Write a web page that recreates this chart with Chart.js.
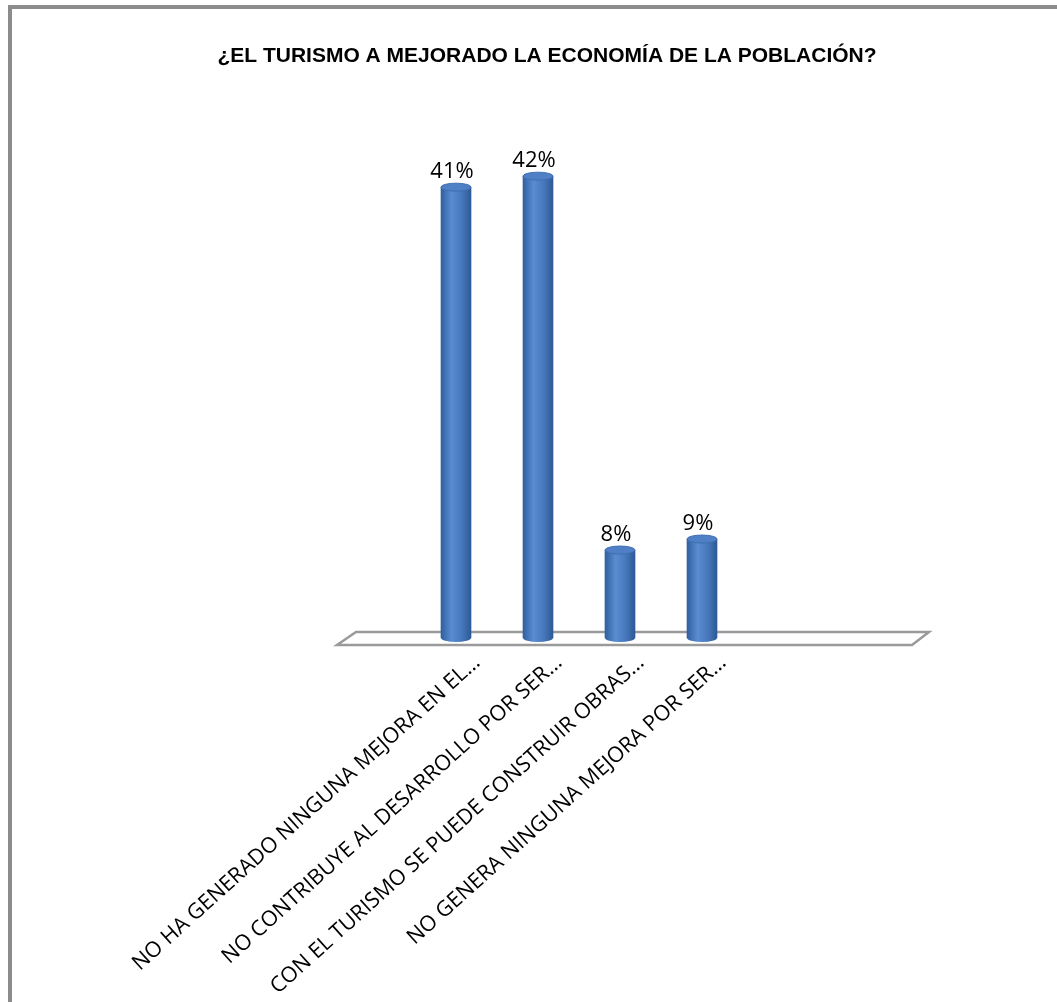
<!DOCTYPE html>
<html lang="es">

<head>
    <meta charset="UTF-8">
    <title>Turismo</title>
    <script src="https://cdn.jsdelivr.net/npm/chart.js@4.4.1/dist/chart.umd.min.js"></script>
    <style>
        body {
            margin: 0;
            background: #ffffff;
        }

        .container {
            position: relative;
            width: 1057px;
            height: 1002px;
        }
    </style>
</head>

<body>
    <div class="container">
        <canvas id="myChart"></canvas>
    </div>
    <script>
        const titulo = '¿EL TURISMO A MEJORADO LA ECONOMÍA DE LA POBLACIÓN?'
        const categorias = [
            'NO HA GENERADO NINGUNA MEJORA EN EL…',
            'NO CONTRIBUYE AL DESARROLLO POR SER…',
            'CON EL TURISMO SE PUEDE CONSTRUIR OBRAS…',
            'NO GENERA NINGUNA MEJORA POR SER…'
        ]
        const porcentajes = [41, 42, 8, 9]

        // cuerpo del cilindro: degradado horizontal
        function cuerpo(ctx) {
            const chart = ctx.chart
            const x = chart.scales.x ? chart.scales.x.getPixelForValue(ctx.dataIndex) : NaN
            if (!isFinite(x)) return '#4777bb'
            const g = chart.ctx.createLinearGradient(x - 15, 0, x + 15, 0)
            g.addColorStop(0, '#30609f')
            g.addColorStop(0.35, '#5a8cd2')
            g.addColorStop(0.7, '#4777bb')
            g.addColorStop(1, '#2d5a95')
            return g
        }

        // marco, piso 3D y tapas de los cilindros
        const efecto3d = {
            id: 'efecto3d',
            beforeDraw(chart) {
                const c = chart.ctx
                c.save()
                c.strokeStyle = '#8c8c8c'
                c.lineWidth = 4
                c.beginPath()
                c.moveTo(10, chart.height)
                c.lineTo(10, 7)
                c.lineTo(chart.width, 7)
                c.stroke()
                c.restore()
            },
            beforeDatasetsDraw(chart) {
                const c = chart.ctx
                const a = chart.chartArea
                const y0 = chart.scales.y.getPixelForValue(0)
                c.save()
                c.fillStyle = '#ffffff'
                c.strokeStyle = '#9a9a9a'
                c.lineWidth = 2.5
                c.beginPath()
                c.moveTo(a.left - 59, y0 - 6)
                c.lineTo(a.right + 186, y0 - 6)
                c.lineTo(a.right + 169, y0 + 7)
                c.lineTo(a.left - 78, y0 + 7)
                c.closePath()
                c.fill()
                c.stroke()
                c.restore()
            },
            afterDatasetsDraw(chart) {
                const c = chart.ctx
                const meta = chart.getDatasetMeta(0)
                c.save()
                meta.data.forEach(function (bar, i) {
                    const rx = bar.width / 2
                    const ry = 4
                    // base redondeada
                    c.beginPath()
                    c.ellipse(bar.x, bar.base, rx, ry, 0, 0, Math.PI)
                    c.fillStyle = cuerpo({ chart: chart, dataIndex: i })
                    c.fill()
                    // tapa
                    c.beginPath()
                    c.ellipse(bar.x, bar.y, rx, ry, 0, 0, Math.PI * 2)
                    c.fillStyle = '#4f80c5'
                    c.fill()
                    c.strokeStyle = '#3f6eb1'
                    c.lineWidth = 1
                    c.stroke()
                    // etiqueta de porcentaje
                    c.fillStyle = '#000000'
                    c.font = '22px "Open Sans"'
                    c.textAlign = 'center'
                    c.textBaseline = 'alphabetic'
                    c.fillText(porcentajes[i] + '%', bar.x - 4, bar.y - 9)
                })
                c.restore()
            }
        }

        new Chart('myChart', {
            type: 'bar',
            data: {
                labels: categorias,
                datasets: [{
                    data: porcentajes,
                    backgroundColor: cuerpo,
                    borderWidth: 0,
                    barThickness: 30
                }]
            },
            options: {
                responsive: true,
                maintainAspectRatio: false,
                animation: false,
                layout: {
                    padding: { left: 37, right: 0, top: 0, bottom: 0 }
                },
                plugins: {
                    legend: { display: false },
                    tooltip: { enabled: false },
                    title: {
                        display: true,
                        text: titulo,
                        color: '#000000',
                        font: { family: '"Liberation Sans", Arial', size: 21, weight: 'bold' },
                        padding: { top: 44, bottom: 74 }
                    }
                },
                scales: {
                    x: {
                        grid: { display: false, drawTicks: false },
                        border: { display: false },
                        ticks: {
                            autoSkip: false,
                            minRotation: 42,
                            maxRotation: 42,
                            padding: 12,
                            labelOffset: 21,
                            color: '#000000',
                            font: { family: '"Open Sans"', size: 21.5 }
                        },
                        afterFit: function (s) { s.height = 364 }
                    },
                    y: {
                        display: false,
                        min: 0,
                        max: 45,
                        afterFit: function (s) { s.width = 378 }
                    },
                    derecha: {
                        display: false,
                        position: 'right',
                        afterFit: function (s) { s.width = 314 }
                    }
                }
            },
            plugins: [efecto3d]
        })
    </script>
</body>

</html>
